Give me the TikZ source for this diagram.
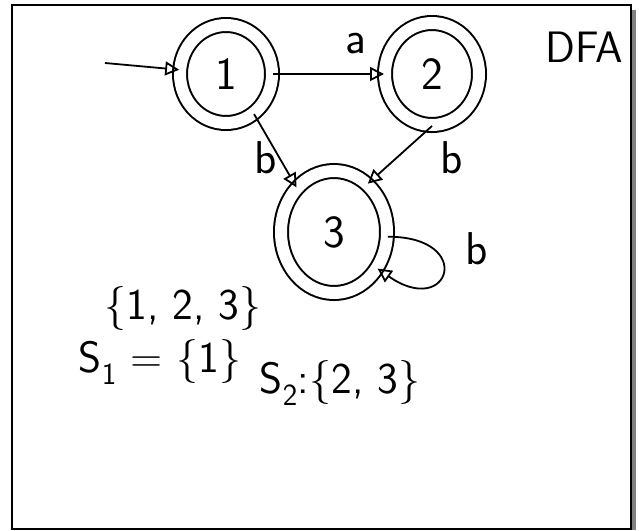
\documentclass[tikz,border=0pt]{standalone}
\usepackage{fontspec}
\usetikzlibrary{arrows.meta,shapes.geometric,positioning}
\newcommand{\hand}[1]{\fontsize{#1}{#1}\selectfont\sffamily}
\begin{document}
\begin{tikzpicture}[
  x=1pt, y=1pt,
  state/.style={ellipse, draw, double, line width=2pt, double distance=12pt, inner sep=0pt, font=\hand{46}},
  lbl/.style={inner sep=1pt, font=\hand{46}},
  arr/.style={-{Triangle[open,length=14pt,width=14pt]}, line width=1.8pt},
  txt/.style={inner sep=0pt, font=\hand{44}}
]
\useasboundingbox (0,0) rectangle (639,-530);
% sheet
\fill[gray] (632,-10) rectangle (636,-530);
\draw[line width=2pt] (12,-5) rectangle (631,-529);

% states
\node[state, minimum width=92pt, minimum height=98pt] (n1) at (226,-74) {1};
\node[state, minimum width=94pt, minimum height=102pt] (n2) at (432,-74) {2};
\node[state, minimum width=106pt, minimum height=122pt] (n3) at (334,-232) {3};
\coordinate (start) at (105,-63);

% transitions
\draw[arr] (start) -- (n1);
\draw[arr] (n1) -- node[lbl, pos=0.75, above=18pt] {a} (n2);
\draw[arr] (n1.-55) -- node[lbl, pos=0.6, left=1pt] {b} (n3.130);
\draw[arr] (n2.-90) -- node[lbl, pos=0.55, right=42pt] {b} (n3.55);
\draw[arr] (n3.-5) .. controls +(0:88) and +(-35:88) .. node[lbl, pos=0.25, right=30pt] {b} (n3.-40);

\node[txt] (dfa) at (584,-47) {DFA};

% sets
\node[txt] (setall) at (183,-308) {\{1, 2, 3\}};
\node[txt] (sone) at (160,-362) {S\textsubscript{1} = \{1\}};
\node[txt] (stwo) at (340,-383) {S\textsubscript{2}:\{2, 3\}};
\end{tikzpicture}
\end{document}
